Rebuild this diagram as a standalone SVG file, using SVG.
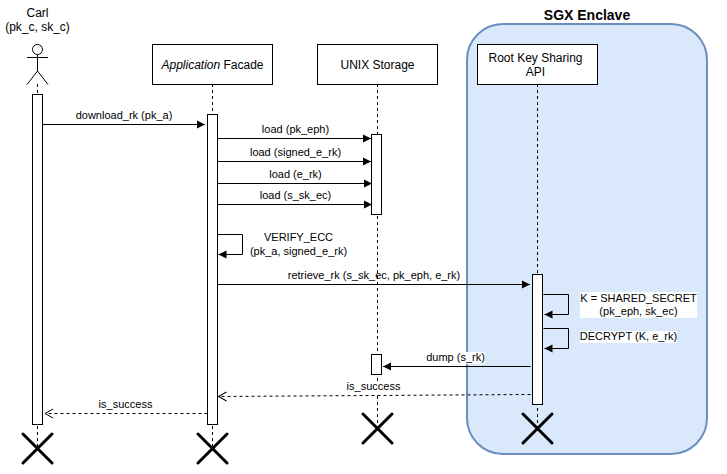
<svg xmlns="http://www.w3.org/2000/svg" width="727" height="474" viewBox="0 0 727 474">
<style>
text{font-family:"Liberation Sans",Arial,sans-serif;font-size:11px;fill:#000;text-anchor:middle}
.head{font-size:12px}
.box{fill:#fff;stroke:#000;stroke-width:1}
.life{fill:none;stroke:#000;stroke-width:1;stroke-dasharray:3 3}
.msg{fill:none;stroke:#000;stroke-width:1;marker-end:url(#solid)}
.ret{fill:none;stroke:#000;stroke-width:1;stroke-dasharray:3 3;marker-end:url(#open)}
.x{fill:none;stroke:#000;stroke-width:3;stroke-linecap:round}
.bg{fill:#fff}
</style>
<defs>
<marker id="solid" markerUnits="userSpaceOnUse" markerWidth="10" markerHeight="10" refX="8" refY="5" orient="auto"><path d="M0 1 L8 5 L0 9 Z" fill="#000"/></marker>
<marker id="open" markerUnits="userSpaceOnUse" markerWidth="11" markerHeight="12" refX="9" refY="6" orient="auto" overflow="visible"><path d="M1 1.500 L9 6 L1 10.500" fill="none" stroke="#000"/></marker>
</defs>
<rect x="0" y="0" width="727" height="474" fill="#fff"/>
<g id="enclave">
<rect x="467" y="24" width="240" height="430" rx="36" ry="36" fill="#dae8fc" stroke="#6c8ebf" stroke-width="2"/>
<text x="587" y="20" style="font-size:14px;font-weight:bold">SGX Enclave</text>
</g>
<g id="lifelines">
<path class="life" d="M37.500 84V449"/>
<path class="life" d="M212.500 84V449"/>
<path class="life" d="M377.500 84V429"/>
<path class="life" d="M537.500 84V429"/>
</g>
<g id="carl">
<text class="head" x="37.500" y="17">Carl</text>
<text class="head" x="37.500" y="31">(pk_c, sk_c)</text>
<g fill="#fff" stroke="#000">
<circle cx="37.500" cy="49.500" r="5"/>
<path d="M37.500 54.500V71M27 57.500H48M37.500 71L27 84.500M37.500 71L48 84.500" fill="none"/>
</g>
<rect class="box" x="32.500" y="94.500" width="10" height="330"/>
<path class="x" d="M23 434L52 463M52 434L23 463"/>
</g>
<g id="facade">
<rect class="box" x="152.500" y="44.500" width="120" height="40"/>
<text class="head" x="212.500" y="68.500"><tspan font-style="italic">Application</tspan> Facade</text>
<rect class="box" x="207.500" y="114.500" width="10" height="310"/>
<path class="x" d="M198 434L227 463M227 434L198 463"/>
</g>
<g id="storage">
<rect class="box" x="317.500" y="44.500" width="120" height="40"/>
<text class="head" x="377.500" y="68.500">UNIX Storage</text>
<rect class="box" x="371.500" y="134.500" width="10" height="80"/>
<rect class="box" x="371.500" y="354.500" width="10" height="20"/>
<path class="x" d="M363 414L392 443M392 414L363 443"/>
</g>
<g id="rootkey">
<rect class="box" x="477.500" y="44.500" width="120" height="40"/>
<text class="head" x="535.500" y="62">Root Key Sharing</text>
<text class="head" x="535.500" y="76">API</text>
<rect class="box" x="532.500" y="274.500" width="10" height="130"/>
<path class="x" d="M523 414L552 443M552 414L523 443"/>
</g>
<g id="connectors">
<path class="msg" d="M42.500 124.500H205"/>
<path class="msg" d="M217.500 138.500H371"/>
<path class="msg" d="M217.500 161.500H371"/>
<path class="msg" d="M217.500 183.500H372"/>
<path class="msg" d="M217.500 204.500H372"/>
<path class="msg" d="M217.500 234.500H242.500V254.500H218.500"/>
<path class="msg" d="M217.500 284.500H530"/>
<path class="msg" d="M543.500 294.500H568.500V314.500H544.500"/>
<path class="msg" d="M543.500 328.500H568.500V348.500H544.500"/>
<path class="msg" d="M530.500 366.500H383"/>
<path class="ret" d="M530.500 394.500L218.500 396.500"/>
<path class="ret" d="M207.500 413.500H45"/>
</g>
<g id="labels">
<text x="124" y="119">download_rk (pk_a)</text>
<text x="295.500" y="133">load (pk_eph)</text>
<text x="295.500" y="156">load (signed_e_rk)</text>
<text x="295.500" y="178">load (e_rk)</text>
<text x="295.500" y="199">load (s_sk_ec)</text>
<text x="298.500" y="241">VERIFY_ECC</text>
<text x="298.500" y="255">(pk_a, signed_e_rk)</text>
<text x="374" y="279">retrieve_rk (s_sk_ec, pk_eph, e_rk)</text>
<rect class="bg" x="580" y="292" width="117" height="26"/>
<text x="638.500" y="302">K = SHARED_SECRET</text>
<text x="638.500" y="315">(pk_eph, sk_ec)</text>
<rect class="bg" x="580" y="331" width="97" height="12"/>
<text x="628.500" y="340">DECRYPT (K, e_rk)</text>
<rect class="bg" x="426" y="352" width="59" height="12"/>
<text x="455.500" y="361">dump (s_rk)</text>
<rect class="bg" x="346" y="381" width="55" height="12"/>
<text x="373.500" y="390">is_success</text>
<text x="125.500" y="408">is_success</text>
</g>
</svg>
